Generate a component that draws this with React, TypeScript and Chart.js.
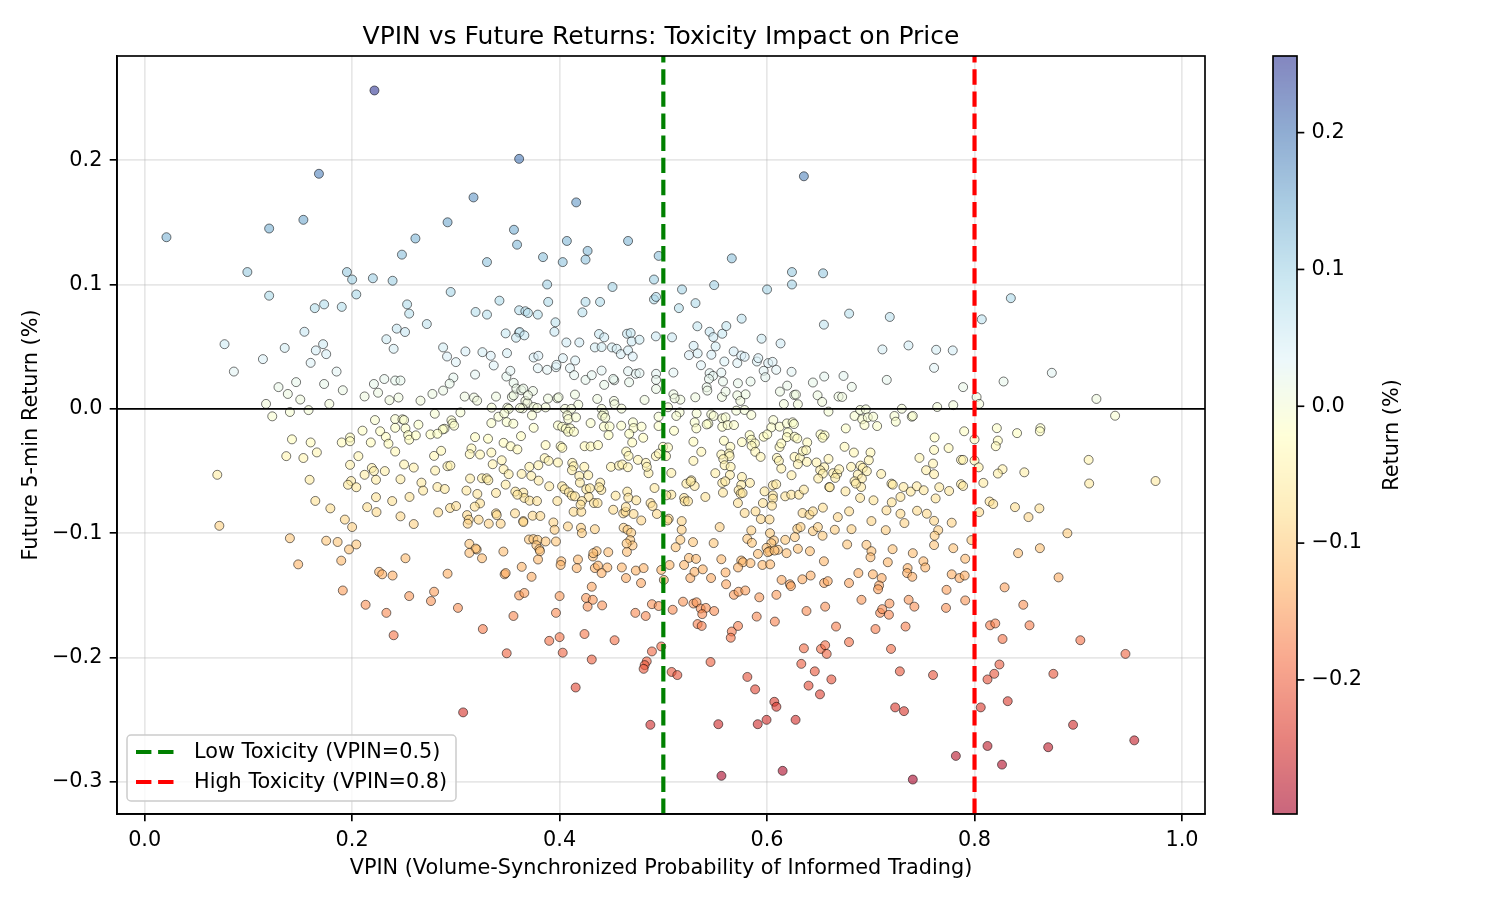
import { useEffect, useRef } from "react";
import { Chart, registerables } from "chart.js";

Chart.register(...registerables);

// VPIN reading vs. the following 5-minute return (%), grouped by VPIN band.
const vpinLow: [number, number][] = [
  [0.2215, 0.256], [0.168, 0.189], [0.153, 0.152], [0.120, 0.145], [0.021, 0.138], [0.099, 0.110],
  [0.195, 0.110], [0.200, 0.104], [0.220, 0.105], [0.120, 0.091], [0.204, 0.092], [0.173, 0.084],
  [0.190, 0.082], [0.164, 0.081],
  [0.154, 0.062], [0.077, 0.052], [0.135, 0.049], [0.172, 0.052], [0.165, 0.047], [0.175, 0.044],
  [0.114, 0.040], [0.160, 0.037], [0.086, 0.030], [0.185, 0.030], [0.233, 0.056], [0.231, 0.024],
  [0.221, 0.020], [0.225, 0.013], [0.212, 0.010], [0.236, 0.007], [0.146, 0.0215], [0.129, 0.0175],
  [0.138, 0.012], [0.173, 0.020], [0.191, 0.015], [0.150, 0.0075], [0.117, 0.004], [0.178, 0.004],
  [0.158, -0.001], [0.140, -0.0025], [0.123, -0.006], [0.222, -0.009], [0.210, -0.0175], [0.227, -0.018],
  [0.2325, -0.0225], [0.235, -0.028], [0.142, -0.0245], [0.160, -0.027], [0.166, -0.035], [0.1365, -0.038],
  [0.153, -0.0395], [0.190, -0.027], [0.198, -0.023], [0.198, -0.026], [0.218, -0.027], [0.206, -0.038],
  [0.198, -0.045], [0.219, -0.0475], [0.221, -0.050], [0.212, -0.053], [0.2315, -0.050], [0.223, -0.057],
  [0.070, -0.053], [0.159, -0.057], [0.199, -0.058], [0.196, -0.061], [0.204, -0.063], [0.1645, -0.074],
  [0.179, -0.080], [0.223, -0.071], [0.2145, -0.079], [0.2235, -0.083], [0.193, -0.089], [0.200, -0.095],
  [0.072, -0.094], [0.140, -0.104], [0.175, -0.106], [0.186, -0.107], [0.197, -0.113], [0.204, -0.109],
  [0.148, -0.125], [0.1895, -0.122],
  [0.226, -0.131], [0.229, -0.133], [0.191, -0.146], [0.213, -0.1575], [0.233, -0.164],
];

const vpinMidLow: [number, number][] = [
  [0.361, 0.201], [0.317, 0.170], [0.416, 0.166], [0.292, 0.150], [0.356, 0.144], [0.261, 0.137],
  [0.359, 0.132], [0.407, 0.135], [0.466, 0.135], [0.427, 0.127], [0.425, 0.120], [0.248, 0.124],
  [0.330, 0.118], [0.384, 0.122], [0.403, 0.118], [0.4955, 0.123], [0.239, 0.103], [0.388, 0.100],
  [0.451, 0.098], [0.491, 0.104], [0.295, 0.094], [0.342, 0.087], [0.389, 0.086], [0.425, 0.086],
  [0.439, 0.086], [0.491, 0.088], [0.493, 0.090], [0.253, 0.084],
  [0.255, 0.0766], [0.319, 0.0779], [0.330, 0.0758], [0.361, 0.0793], [0.367, 0.0785], [0.3695, 0.0771],
  [0.379, 0.0758], [0.422, 0.0776], [0.243, 0.0645], [0.251, 0.0618], [0.272, 0.0682], [0.396, 0.0696],
  [0.395, 0.0620], [0.348, 0.0607], [0.361, 0.0612], [0.3615, 0.0618], [0.358, 0.0572], [0.366, 0.0591],
  [0.240, 0.0483], [0.2877, 0.0494], [0.2915, 0.0421], [0.300, 0.0376], [0.3092, 0.0462], [0.3256, 0.0456],
  [0.3336, 0.0427], [0.3365, 0.0349], [0.3493, 0.0448], [0.375, 0.0413], [0.3795, 0.0427], [0.379, 0.0327],
  [0.388, 0.0314], [0.3965, 0.0335], [0.397, 0.0354], [0.4032, 0.0408], [0.415, 0.0389], [0.4065, 0.0534],
  [0.419, 0.0534], [0.410, 0.0327], [0.414, 0.0271], [0.425, 0.0233], [0.431, 0.0271], [0.4405, 0.0308],
  [0.443, 0.0193], [0.434, 0.0494], [0.4405, 0.0497], [0.438, 0.0602], [0.443, 0.0575], [0.4505, 0.0494],
  [0.455, 0.0483], [0.459, 0.0440], [0.466, 0.0470], [0.4705, 0.0421], [0.465, 0.0604], [0.4685, 0.0610],
  [0.4695, 0.0542], [0.477, 0.0556], [0.4928, 0.0583], [0.4527, 0.0230], [0.4517, 0.0241], [0.466, 0.0303],
  [0.4735, 0.0282], [0.477, 0.0287], [0.467, 0.0214], [0.493, 0.0282], [0.493, 0.0233], [0.493, 0.016],
  [0.2415, 0.0228], [0.2466, 0.0228], [0.3185, 0.0276], [0.3487, 0.0260], [0.3525, 0.0306], [0.3557, 0.0209],
  [0.2976, 0.0252], [0.294, 0.0203], [0.2877, 0.0147], [0.2774, 0.0120], [0.2659, 0.0066], [0.2447, 0.0091],
  [0.3085, 0.0099], [0.3175, 0.0091], [0.3205, 0.0066], [0.3387, 0.0099], [0.354, 0.0096], [0.3557, 0.0109],
  [0.3583, 0.0163], [0.3631, 0.0150], [0.365, 0.0163], [0.3743, 0.0144], [0.367, 0.0064], [0.369, 0.0048],
  [0.3644, 0.0004], [0.375, 0.0015], [0.3695, 0.0109], [0.3888, 0.0083], [0.3978, 0.0085], [0.399, 0.0093],
  [0.4148, 0.0115], [0.418, 0.0034], [0.4363, 0.0080], [0.4524, 0.0064], [0.453, 0.0037], [0.4597, 0.0002],
  [0.4819, 0.0072], [0.3345, 0.0010], [0.3496, 0.0010], [0.351, 0.0], [0.3618, 0.0007], [0.3865, 0.0012],
  [0.3785, 0.0007], [0.4052, 0.0], [0.4113, 0.0], [0.4405, 0.0], [0.4427, -0.0036],
  [0.2415, -0.0082], [0.2485, -0.0084], [0.2501, -0.0090], [0.2797, -0.0039], [0.3044, -0.0028],
  [0.2957, -0.0092], [0.2967, -0.0117], [0.2983, -0.0135], [0.289, -0.0160], [0.2874, -0.0165],
  [0.2639, -0.0127], [0.2415, -0.0152], [0.2514, -0.0157], [0.2755, -0.0205], [0.2822, -0.0200],
  [0.254, -0.0211], [0.255, -0.0248], [0.2614, -0.0213], [0.2415, -0.0343], [0.3342, -0.0114],
  [0.341, -0.0063], [0.3467, -0.0036], [0.349, -0.0106], [0.3554, -0.0119], [0.3734, -0.0052],
  [0.375, -0.0152], [0.3185, -0.0227], [0.331, -0.0240], [0.3628, -0.0219], [0.346, -0.0273],
  [0.3528, -0.0300], [0.3593, -0.0326], [0.315, -0.0318], [0.3134, -0.0364], [0.3233, -0.0367],
  [0.3342, -0.0351], [0.3865, -0.0291], [0.401, -0.0300], [0.4026, -0.0313], [0.3984, -0.0133],
  [0.4025, -0.0144], [0.406, -0.0160], [0.4102, -0.0157], [0.4083, -0.0184], [0.4138, -0.0184],
  [0.4074, -0.0052], [0.4084, -0.0082], [0.4158, -0.0068], [0.4299, -0.0114], [0.4411, -0.0055],
  [0.444, -0.0071], [0.4427, -0.0143], [0.4482, -0.0141], [0.4472, -0.0211], [0.4594, -0.0135],
  [0.4707, -0.0108], [0.4713, -0.0154], [0.479, -0.0143], [0.4671, -0.0200], [0.4806, -0.0232],
  [0.4954, -0.0138], [0.4954, -0.0063], [0.4241, -0.0300], [0.4299, -0.0302], [0.437, -0.0291],
  [0.47, -0.0270], [0.4642, -0.0343], [0.4665, -0.0378], [0.4755, -0.0410], [0.4832, -0.0434],
  [0.4857, -0.0517], [0.4841, -0.0466], [0.4928, -0.0380], [0.4957, -0.0359], [0.279, -0.0378],
  [0.2858, -0.0337], [0.2501, -0.0447], [0.2594, -0.0472], [0.28, -0.0496], [0.2919, -0.0461],
  [0.2947, -0.0456], [0.3355, -0.0445], [0.3442, -0.0413], [0.346, -0.0485], [0.3509, -0.0525],
  [0.3634, -0.0523], [0.3708, -0.0466], [0.3727, -0.0539], [0.3795, -0.0453], [0.3798, -0.0577],
  [0.3856, -0.0396], [0.3894, -0.0418], [0.3984, -0.0431], [0.4122, -0.0434], [0.4135, -0.0461],
  [0.4119, -0.0493], [0.4238, -0.0466], [0.419, -0.0539], [0.4196, -0.0593], [0.4276, -0.0533],
  [0.4495, -0.0466], [0.4572, -0.0456], [0.4604, -0.0447], [0.4658, -0.0469], [0.2466, -0.0566],
  [0.2668, -0.0593], [0.2684, -0.0657], [0.2822, -0.0628], [0.2893, -0.0644], [0.3137, -0.0560],
  [0.3252, -0.0558], [0.3297, -0.0558], [0.3313, -0.0574], [0.348, -0.0609], [0.3387, -0.0676],
  [0.3102, -0.0657], [0.3207, -0.0684], [0.3573, -0.0665], [0.365, -0.0673], [0.366, -0.0716],
  [0.3711, -0.0738], [0.3782, -0.0741], [0.3593, -0.0690], [0.39, -0.0622], [0.4024, -0.0622],
  [0.4049, -0.0646], [0.409, -0.0671], [0.4119, -0.0698], [0.4148, -0.0703], [0.4257, -0.0646],
  [0.4292, -0.0638], [0.428, -0.0708], [0.4392, -0.0593], [0.4402, -0.0652], [0.4382, -0.0630],
  [0.454, -0.0698], [0.4652, -0.0665], [0.4662, -0.0714], [0.4739, -0.0735], [0.4915, -0.0636],
  [0.2386, -0.0741], [0.2553, -0.0708], [0.2829, -0.0832], [0.2944, -0.0797], [0.3002, -0.0781],
  [0.3233, -0.0760], [0.3182, -0.0786], [0.3108, -0.0854], [0.3387, -0.0840], [0.3394, -0.0854],
  [0.357, -0.0840], [0.365, -0.0902], [0.374, -0.0859], [0.3814, -0.0861], [0.3978, -0.0741],
  [0.4215, -0.0741], [0.4135, -0.0827], [0.4209, -0.0827], [0.4331, -0.0757], [0.4202, -0.0770],
  [0.4366, -0.0757], [0.4517, -0.0811], [0.4613, -0.0840], [0.4636, -0.0827], [0.4639, -0.0789],
  [0.4713, -0.0845], [0.4787, -0.0897], [0.4877, -0.0757], [0.4896, -0.0781], [0.4938, -0.0845],
  [0.2466, -0.0864], [0.2594, -0.0926], [0.3124, -0.0891], [0.3114, -0.0923], [0.322, -0.0891],
  [0.3317, -0.0923], [0.3432, -0.0923], [0.365, -0.0910], [0.394, -0.0913], [0.3952, -0.0972],
  [0.408, -0.0945], [0.4206, -0.0956], [0.4215, -0.0999], [0.434, -0.0967], [0.4617, -0.0956],
  [0.4655, -0.0972], [0.469, -0.0996], [0.4681, -0.1055], [0.4703, -0.1098], [0.4649, -0.1150],
  [0.4646, -0.1082], [0.3705, -0.1050], [0.3747, -0.1047], [0.3788, -0.1053], [0.3865, -0.1066],
  [0.3965, -0.1066], [0.3776, -0.1096], [0.3805, -0.1128], [0.3811, -0.1144], [0.313, -0.1085],
  [0.3201, -0.1131], [0.3191, -0.1123], [0.3252, -0.1201], [0.313, -0.1158], [0.3458, -0.1147],
  [0.2514, -0.1201], [0.3792, -0.1211], [0.4016, -0.1225], [0.4177, -0.1211], [0.4321, -0.1187],
  [0.4469, -0.1152], [0.4357, -0.1144], [0.4325, -0.1160],
  [0.239, -0.134], [0.292, -0.1325], [0.255, -0.1505], [0.279, -0.147], [0.276, -0.1545], [0.302, -0.160],
  [0.240, -0.182], [0.326, -0.177], [0.347, -0.133], [0.348, -0.132], [0.3635, -0.127], [0.373, -0.135],
  [0.361, -0.150], [0.366, -0.148], [0.3555, -0.1665], [0.349, -0.1965], [0.307, -0.244], [0.401, -0.1255],
  [0.4165, -0.128], [0.400, -0.1505], [0.3965, -0.164], [0.390, -0.1865], [0.400, -0.1835], [0.403, -0.196],
  [0.4155, -0.224], [0.424, -0.181], [0.431, -0.2015], [0.431, -0.143], [0.4255, -0.152], [0.432, -0.1535],
  [0.427, -0.159], [0.441, -0.158], [0.434, -0.128], [0.437, -0.126], [0.446, -0.1275], [0.4405, -0.132],
  [0.460, -0.1275], [0.464, -0.136], [0.4735, -0.130], [0.481, -0.128], [0.4785, -0.140], [0.453, -0.186],
  [0.473, -0.164], [0.483, -0.1665], [0.489, -0.157], [0.4955, -0.1585], [0.489, -0.195], [0.498, -0.191],
  [0.484, -0.203], [0.482, -0.206], [0.481, -0.209], [0.4875, -0.254], [0.498, -0.1295],
];

const vpinMidHigh: [number, number][] = [
  [0.6355, 0.187], [0.566, 0.121], [0.624, 0.110], [0.654, 0.109], [0.518, 0.096], [0.549, 0.0995],
  [0.600, 0.096], [0.624, 0.100], [0.531, 0.085], [0.515, 0.081],
  [0.5755, 0.0725], [0.6791, 0.0766], [0.7183, 0.0739], [0.6548, 0.0677], [0.5328, 0.0664], [0.5446, 0.0620],
  [0.5482, 0.0577], [0.5568, 0.0604], [0.5607, 0.0666], [0.5084, 0.0575], [0.5947, 0.0564], [0.613, 0.0526],
  [0.5292, 0.0507], [0.5247, 0.0432], [0.5331, 0.0446], [0.5463, 0.0435], [0.5504, 0.0502], [0.5678, 0.0462],
  [0.5713, 0.0368], [0.5751, 0.0429], [0.5784, 0.0419], [0.5363, 0.0351], [0.5588, 0.0381], [0.5902, 0.0381],
  [0.5915, 0.0408], [0.6011, 0.0368], [0.6053, 0.0378], [0.6088, 0.0314], [0.5967, 0.0306], [0.5983, 0.0255],
  [0.6236, 0.0298], [0.7112, 0.0478], [0.7363, 0.0510], [0.5097, 0.0292], [0.5446, 0.0287], [0.5479, 0.0265],
  [0.544, 0.0241], [0.5559, 0.0292], [0.5575, 0.0220], [0.5719, 0.0206], [0.5841, 0.0220], [0.5418, 0.0174],
  [0.5424, 0.0147], [0.5097, 0.0117], [0.5164, 0.0074], [0.5109, 0.0085], [0.5308, 0.0093], [0.5565, 0.0096],
  [0.56, 0.0139], [0.5713, 0.0109], [0.5742, 0.0064], [0.5793, 0.0117], [0.6124, 0.0139], [0.6194, 0.0187],
  [0.6262, 0.0112], [0.6278, 0.0115], [0.6162, 0.0039], [0.6297, 0.0037], [0.6442, 0.0212], [0.6551, 0.0260],
  [0.6737, 0.0265], [0.6817, 0.0177], [0.6487, 0.0109], [0.6531, 0.0056], [0.6689, 0.0099], [0.6724, 0.0096],
  [0.7154, 0.0233], [0.6592, -0.0022], [0.5045, 0.0013], [0.5157, -0.0028], [0.5125, -0.0057],
  [0.5321, -0.0036], [0.5302, -0.0108], [0.5318, -0.0157], [0.5703, -0.0014], [0.5783, -0.0009],
  [0.5848, -0.0049], [0.5462, -0.0044], [0.5485, -0.0057], [0.5568, -0.0076], [0.56, -0.0068],
  [0.5434, -0.0119], [0.5418, -0.0125], [0.5568, -0.0144], [0.5620, -0.0130], [0.5681, -0.0130],
  [0.606, -0.0090], [0.6041, -0.0149], [0.6121, -0.0143], [0.6191, -0.0117], [0.6246, -0.0108],
  [0.6259, -0.0122], [0.5967, -0.0224], [0.6002, -0.0205], [0.6201, -0.0189], [0.6191, -0.0227],
  [0.5832, -0.0211], [0.5848, -0.0248], [0.5758, -0.0267], [0.5883, -0.0278], [0.6843, -0.0057],
  [0.6897, -0.0009], [0.6952, -0.0004], [0.6917, -0.0084], [0.6939, -0.0130], [0.6971, -0.0068],
  [0.7023, -0.0063], [0.7061, -0.0138], [0.7228, -0.0057], [0.7241, -0.0103], [0.7299, 0.0001],
  [0.7395, -0.0063], [0.7405, -0.0057], [0.6759, -0.0157], [0.6515, -0.0205], [0.6554, -0.0213],
  [0.6535, -0.0232], [0.5103, -0.0176], [0.529, -0.0264], [0.4997, -0.0305], [0.5045, -0.0310],
  [0.5026, -0.0380], [0.5366, -0.0345], [0.529, -0.0418], [0.5584, -0.0256], [0.5646, -0.0305],
  [0.5559, -0.0367], [0.5633, -0.0359], [0.5639, -0.0380], [0.5578, -0.0404], [0.5591, -0.0453],
  [0.5649, -0.0466], [0.5642, -0.0531], [0.5851, -0.0297], [0.5886, -0.0345], [0.5938, -0.0386],
  [0.612, -0.0307], [0.6137, -0.0278], [0.6095, -0.0394], [0.6114, -0.0418], [0.6137, -0.0480],
  [0.6265, -0.0224], [0.6291, -0.0238], [0.6265, -0.0386], [0.6317, -0.0396], [0.6345, -0.0340],
  [0.6387, -0.0270], [0.6377, -0.0332], [0.6297, -0.0445], [0.6384, -0.0426], [0.6477, -0.0431],
  [0.6592, -0.0402], [0.6747, -0.0305], [0.6837, -0.0351], [0.6997, -0.0351], [0.6981, -0.0413],
  [0.6551, -0.0469], [0.6512, -0.0493], [0.6538, -0.0520], [0.6493, -0.0560], [0.6637, -0.0517],
  [0.6676, -0.0523], [0.6695, -0.0485], [0.6657, -0.0555], [0.6599, -0.0628], [0.681, -0.0466],
  [0.6901, -0.0456], [0.6923, -0.0474], [0.6962, -0.0501], [0.6875, -0.0528], [0.6914, -0.0560],
  [0.71, -0.0523], [0.6843, -0.0582], [0.6907, -0.0628], [0.6856, -0.0601], [0.7199, -0.0601],
  [0.7212, -0.0609], [0.7315, -0.0628], [0.7385, -0.0665], [0.7443, -0.0622], [0.751, -0.0654],
  [0.7469, -0.0394], [0.7533, -0.0493], [0.5077, -0.0515], [0.5501, -0.0517], [0.5568, -0.0595],
  [0.5597, -0.0582], [0.5758, -0.0547], [0.5835, -0.0595], [0.5751, -0.0611], [0.5222, -0.0601],
  [0.527, -0.0574], [0.5302, -0.0620], [0.5263, -0.0584], [0.6236, -0.0533], [0.6056, -0.0614],
  [0.6088, -0.0606], [0.5077, -0.0690], [0.5029, -0.0695], [0.52, -0.0716], [0.5206, -0.0743],
  [0.5238, -0.0743], [0.5405, -0.0708], [0.5575, -0.0673], [0.5726, -0.0654], [0.5745, -0.0681],
  [0.5764, -0.0676], [0.5976, -0.0663], [0.6056, -0.0695], [0.6056, -0.0722], [0.596, -0.0757],
  [0.6047, -0.0778], [0.6175, -0.0703], [0.6233, -0.0690], [0.6307, -0.0690], [0.6355, -0.0649],
  [0.6605, -0.0630], [0.6756, -0.0663], [0.6897, -0.0716], [0.7026, -0.0735], [0.7151, -0.0816],
  [0.7202, -0.0751], [0.7286, -0.0708], [0.5719, -0.0757], [0.5784, -0.0837], [0.5889, -0.0824],
  [0.594, -0.0886], [0.6024, -0.0889], [0.6342, -0.0837], [0.6409, -0.0851], [0.6442, -0.0824],
  [0.6538, -0.0794], [0.6682, -0.0870], [0.6791, -0.0824], [0.7006, -0.0902], [0.7286, -0.0843],
  [0.7324, -0.0918], [0.7446, -0.0819], [0.754, -0.0843], [0.5052, -0.0883], [0.504, -0.0897],
  [0.5177, -0.0902], [0.5177, -0.0972], [0.5164, -0.1053], [0.5119, -0.1112], [0.5543, -0.0950],
  [0.5286, -0.1071], [0.5485, -0.1079], [0.5848, -0.0977], [0.5809, -0.1045], [0.5854, -0.1077],
  [0.6028, -0.0999], [0.6066, -0.1058], [0.6041, -0.1080], [0.5995, -0.1117], [0.6024, -0.1144],
  [0.6105, -0.1133], [0.6188, -0.1160], [0.6175, -0.1053], [0.6291, -0.0964], [0.6323, -0.0950],
  [0.6268, -0.1031], [0.6297, -0.1125], [0.6413, -0.1144], [0.6442, -0.0983], [0.6490, -0.0950],
  [0.6535, -0.1020], [0.6653, -0.0972], [0.6814, -0.0967], [0.6958, -0.1093], [0.7144, -0.0975],
  [0.7006, -0.1144], [0.721, -0.1128], [0.7405, -0.1160], [0.6772, -0.1090], [0.5247, -0.1198],
  [0.5315, -0.1206], [0.5559, -0.1209], [0.5751, -0.1219], [0.5768, -0.1233], [0.5912, -0.1166],
  [0.6008, -0.1152], [0.6072, -0.1139], [0.6548, -0.1225], [0.6997, -0.1193], [0.7164, -0.1233],
  [0.7507, -0.1225],
  [0.506, -0.1255], [0.520, -0.1255], [0.584, -0.124], [0.5005, -0.1375], [0.508, -0.2115], [0.5135, -0.214],
  [0.509, -0.1615], [0.519, -0.155], [0.529, -0.1565], [0.532, -0.1555], [0.536, -0.1605], [0.541, -0.160],
  [0.5375, -0.165], [0.549, -0.1625], [0.533, -0.173], [0.537, -0.1745], [0.5455, -0.2035], [0.553, -0.2535],
  [0.556, -0.295], [0.526, -0.136], [0.530, -0.131], [0.538, -0.129], [0.546, -0.136], [0.560, -0.1315],
  [0.5605, -0.141], [0.572, -0.1275], [0.568, -0.1495], [0.5725, -0.147], [0.579, -0.146], [0.566, -0.179],
  [0.572, -0.1745], [0.565, -0.184], [0.590, -0.167], [0.5925, -0.1515], [0.581, -0.2155], [0.5885, -0.2255],
  [0.591, -0.2535], [0.5995, -0.250], [0.5955, -0.1255], [0.603, -0.125], [0.609, -0.1495], [0.6075, -0.171],
  [0.607, -0.2355], [0.609, -0.2395], [0.615, -0.291], [0.6275, -0.250], [0.614, -0.1375], [0.622, -0.141],
  [0.623, -0.1425], [0.634, -0.137], [0.642, -0.134], [0.638, -0.1625], [0.656, -0.159], [0.655, -0.140],
  [0.6585, -0.1385], [0.6665, -0.175], [0.6355, -0.1925], [0.633, -0.205], [0.646, -0.211], [0.640, -0.2225],
  [0.651, -0.2295], [0.662, -0.2175], [0.652, -0.193], [0.656, -0.190], [0.6575, -0.197], [0.679, -0.1875],
  [0.679, -0.140], [0.688, -0.132], [0.691, -0.1535], [0.702, -0.133], [0.7105, -0.136], [0.708, -0.142],
  [0.707, -0.145], [0.7045, -0.177], [0.709, -0.164], [0.711, -0.161], [0.718, -0.1565], [0.7175, -0.1655],
  [0.7195, -0.193], [0.728, -0.211], [0.7235, -0.240], [0.732, -0.243], [0.7405, -0.298], [0.7335, -0.175],
  [0.7365, -0.1535], [0.742, -0.159], [0.7355, -0.128], [0.735, -0.132], [0.740, -0.135], [0.7525, -0.1275],
  [0.760, -0.214],
];

const vpinHigh: [number, number][] = [
  [0.835, 0.089],
  [0.807, 0.072], [0.763, 0.0475], [0.779, 0.047], [0.761, 0.033], [0.8745, 0.029], [0.828, 0.022],
  [0.789, 0.0175], [0.802, 0.0095], [0.8045, 0.004], [0.7795, 0.003], [0.764, 0.0015], [0.9175, 0.008],
  [0.9355, -0.0055], [0.8215, -0.0155], [0.841, -0.0195], [0.8635, -0.0155], [0.863, -0.018], [0.790, -0.018],
  [0.7615, -0.023], [0.800, -0.0245], [0.8225, -0.0255], [0.8205, -0.030], [0.761, -0.033], [0.775, -0.0315],
  [0.787, -0.041], [0.789, -0.041], [0.800, -0.0415], [0.804, -0.047], [0.760, -0.044], [0.910, -0.041],
  [0.827, -0.0485], [0.8225, -0.052], [0.848, -0.051], [0.761, -0.0525], [0.9745, -0.058], [0.9105, -0.060],
  [0.8085, -0.0595], [0.787, -0.0605], [0.789, -0.062], [0.766, -0.063], [0.7755, -0.066], [0.7625, -0.072],
  [0.8145, -0.0745], [0.818, -0.0765], [0.839, -0.079], [0.8625, -0.080], [0.8045, -0.083], [0.852, -0.087],
  [0.761, -0.090], [0.778, -0.0915], [0.765, -0.0975], [0.7615, -0.102], [0.8895, -0.100], [0.797, -0.1055],
  [0.761, -0.1095], [0.7795, -0.112], [0.863, -0.112], [0.842, -0.116], [0.791, -0.1205],
  [0.778, -0.133], [0.7855, -0.136], [0.7905, -0.134], [0.773, -0.1455], [0.791, -0.154], [0.7725, -0.160],
  [0.829, -0.1435], [0.881, -0.1355], [0.847, -0.1575], [0.815, -0.174], [0.820, -0.1725], [0.853, -0.174],
  [0.827, -0.185], [0.902, -0.186], [0.9455, -0.197], [0.824, -0.2055], [0.819, -0.213], [0.8125, -0.2175],
  [0.876, -0.213], [0.832, -0.235], [0.806, -0.240], [0.895, -0.254], [0.954, -0.2665], [0.8125, -0.271],
  [0.871, -0.272], [0.782, -0.279], [0.8265, -0.286],
];

const xTicks = [0, 0.2, 0.4, 0.6, 0.8, 1.0];
const yTicks = [-0.3, -0.2, -0.1, 0, 0.1, 0.2];
const colorbarTicks = [-0.2, -0.1, 0, 0.1, 0.2];
const lowToxicityVpin = 0.5;
const highToxicityVpin = 0.8;

// RdYlBu colormap anchors
const RDYLBU: number[][] = [
  [165, 0, 38], [215, 48, 39], [244, 109, 67], [253, 174, 97], [254, 224, 144], [255, 255, 191],
  [224, 243, 248], [171, 217, 233], [116, 173, 209], [69, 117, 180], [49, 54, 149],
];

const FONT = "'DejaVu Sans', 'Liberation Sans', sans-serif";
const POINT_ALPHA = 0.6;
const TEXT_PX = 20.8;
const TITLE_PX = 25;
const LINE_PX = 1.67;
const TICK_LEN = 7.3;
const TICK_PAD = 7.3;

const samples = [...vpinLow, ...vpinMidLow, ...vpinMidHigh, ...vpinHigh];
const xsAll = samples.map((p) => p[0]);
const ysAll = samples.map((p) => p[1]);
const retMin = Math.min(...ysAll);
const retMax = Math.max(...ysAll);
const xLo = Math.min(...xsAll);
const xHi = Math.max(...xsAll);
const xMin = xLo - 0.05 * (xHi - xLo);
const xMax = xHi + 0.05 * (xHi - xLo);
const yMin = retMin - 0.05 * (retMax - retMin);
const yMax = retMax + 0.05 * (retMax - retMin);

function rdylbu(t: number): number[] {
  const c = Math.max(0, Math.min(1, t)) * 10;
  const i = Math.min(9, Math.floor(c));
  const u = c - i;
  const a = RDYLBU[i];
  const b = RDYLBU[i + 1];
  return [0, 1, 2].map((k) => Math.round(a[k] + (b[k] - a[k]) * u));
}

function returnColor(v: number, alpha: number): string {
  const [r, g, b] = rdylbu((v - retMin) / (retMax - retMin));
  return `rgba(${r},${g},${b},${alpha})`;
}

const fmt = (v: number) => Number(v).toFixed(1).replace("-", "\u2212");

const figurePlugin = {
  id: "figureDecor",
  beforeDraw(chart: any) {
    const ctx = chart.ctx;
    ctx.save();
    ctx.fillStyle = "#ffffff";
    ctx.fillRect(0, 0, chart.width, chart.height);
    ctx.restore();
  },
  afterDatasetsDraw(chart: any) {
    const ctx = chart.ctx as CanvasRenderingContext2D;
    const area = chart.chartArea;
    ctx.save();

    // axes frame
    ctx.strokeStyle = "#000";
    ctx.lineWidth = LINE_PX;
    ctx.strokeRect(area.left, area.top, area.right - area.left, area.bottom - area.top);

    // title
    ctx.fillStyle = "#000";
    ctx.font = `${TITLE_PX}px ${FONT}`;
    ctx.textAlign = "center";
    ctx.textBaseline = "alphabetic";
    ctx.fillText("VPIN vs Future Returns: Toxicity Impact on Price", (area.left + area.right) / 2, area.top - 12.5);

    // legend
    const lx = area.left + 10;
    const ly = area.bottom - 79;
    const lw = 329;
    const lh = 66;
    ctx.beginPath();
    ctx.roundRect(lx, ly, lw, lh, 4);
    ctx.fillStyle = "rgba(255,255,255,0.8)";
    ctx.fill();
    ctx.strokeStyle = "#cccccc";
    ctx.lineWidth = 1.5;
    ctx.stroke();
    const entries = chart.data.datasets.filter((d: any) => d.inLegend);
    entries.forEach((d: any, i: number) => {
      const y = ly + 17 + i * 30;
      ctx.beginPath();
      ctx.setLineDash(d.borderDash);
      ctx.lineDashOffset = 0;
      ctx.strokeStyle = d.borderColor;
      ctx.lineWidth = d.borderWidth;
      ctx.moveTo(lx + 9, y);
      ctx.lineTo(lx + 50.6, y);
      ctx.stroke();
      ctx.setLineDash([]);
      ctx.fillStyle = "#000";
      ctx.font = `${TEXT_PX}px ${FONT}`;
      ctx.textAlign = "left";
      ctx.textBaseline = "middle";
      ctx.fillText(d.label, lx + 67, y + 1);
    });

    // colorbar
    const cb = chart.scales.cbar;
    const cx = area.right + 68;
    const cw = 24;
    for (let py = Math.floor(cb.top); py < Math.ceil(cb.bottom); py++) {
      const v = cb.getValueForPixel(py + 0.5);
      ctx.fillStyle = returnColor(v, POINT_ALPHA);
      ctx.fillRect(cx, py, cw, 1);
    }
    ctx.strokeStyle = "#000";
    ctx.lineWidth = LINE_PX;
    ctx.strokeRect(cx, cb.top, cw, cb.bottom - cb.top);
    cb.ticks.forEach((t: any) => {
      const py = cb.getPixelForValue(t.value);
      ctx.beginPath();
      ctx.moveTo(cx + cw, py);
      ctx.lineTo(cx + cw + TICK_LEN, py);
      ctx.stroke();
    });
    ctx.translate(area.right + 188, (cb.top + cb.bottom) / 2);
    ctx.rotate(-Math.PI / 2);
    ctx.fillStyle = "#000";
    ctx.font = `${TEXT_PX}px ${FONT}`;
    ctx.textAlign = "center";
    ctx.textBaseline = "middle";
    ctx.fillText("Return (%)", 0, 0);

    ctx.restore();
  },
};

export default function App() {
  const canvasRef = useRef<HTMLCanvasElement>(null);

  useEffect(() => {
    const canvas = canvasRef.current;
    if (!canvas) return;

    const textFont = { family: FONT, size: TEXT_PX };
    const gridOpts = {
      color: "rgba(176,176,176,0.3)",
      lineWidth: LINE_PX,
      tickColor: "#000",
      tickLength: TICK_LEN,
      tickWidth: LINE_PX,
    };
    const toxicityLine = (vpin: number, color: string, label: string) => ({
      type: "line" as const,
      label,
      inLegend: true,
      data: [{ x: vpin, y: yMin }, { x: vpin, y: yMax }],
      borderColor: color,
      borderWidth: 4.17,
      borderDash: [15.4, 6.7],
      borderCapStyle: "butt",
      pointRadius: 0,
      showLine: true,
      fill: false,
      order: 1,
      xAxisID: "x",
      yAxisID: "y",
    });

    const chart = new Chart(canvas, {
      type: "scatter",
      data: {
        datasets: [
          {
            label: "Future 5-min Return",
            data: samples.map(([x, y]) => ({ x, y })),
            pointRadius: 4.5,
            pointBackgroundColor: samples.map(([, y]) => returnColor(y, POINT_ALPHA)),
            pointBorderColor: "rgba(0,0,0,0.6)",
            pointBorderWidth: 0.9,
            order: 3,
            xAxisID: "x",
            yAxisID: "y",
          } as any,
          {
            type: "line",
            label: "zero",
            data: [{ x: xMin, y: 0 }, { x: xMax, y: 0 }],
            borderColor: "#000",
            borderWidth: 1.6,
            pointRadius: 0,
            showLine: true,
            order: 2,
            xAxisID: "x",
            yAxisID: "y",
          } as any,
          toxicityLine(lowToxicityVpin, "#008000", "Low Toxicity (VPIN=0.5)") as any,
          toxicityLine(highToxicityVpin, "#ff0000", "High Toxicity (VPIN=0.8)") as any,
        ],
      },
      options: {
        animation: false,
        responsive: false,
        devicePixelRatio: 1,
        events: [],
        layout: { padding: { top: 56, left: 0, right: 0, bottom: 0 } },
        plugins: {
          legend: { display: false },
          tooltip: { enabled: false },
          title: { display: false },
        },
        scales: {
          x: {
            type: "linear",
            position: "bottom",
            min: xMin,
            max: xMax,
            afterBuildTicks: (s: any) => {
              s.ticks = xTicks.map((value) => ({ value }));
            },
            afterFit: (s: any) => {
              s.height = 86;
              s.paddingLeft = 0;
              s.paddingRight = 0;
            },
            ticks: {
              callback: (v: any) => fmt(v),
              font: textFont,
              color: "#000",
              padding: TICK_PAD,
              maxRotation: 0,
              autoSkip: false,
            },
            grid: gridOpts,
            border: { color: "#000", width: LINE_PX },
            title: {
              display: true,
              text: "VPIN (Volume-Synchronized Probability of Informed Trading)",
              font: textFont,
              color: "#000",
              padding: { top: 0, bottom: 19 },
            },
          },
          y: {
            type: "linear",
            position: "left",
            min: yMin,
            max: yMax,
            afterBuildTicks: (s: any) => {
              s.ticks = yTicks.map((value) => ({ value }));
            },
            afterFit: (s: any) => {
              s.width = 117;
              s.paddingTop = 0;
              s.paddingBottom = 0;
            },
            ticks: {
              callback: (v: any) => fmt(v),
              font: textFont,
              color: "#000",
              padding: TICK_PAD,
              autoSkip: false,
            },
            grid: gridOpts,
            border: { color: "#000", width: LINE_PX },
            title: {
              display: true,
              text: "Future 5-min Return (%)",
              font: textFont,
              color: "#000",
              padding: { top: 19, bottom: 0 },
            },
          },
          cbar: {
            type: "linear",
            position: "right",
            min: retMin,
            max: retMax,
            afterBuildTicks: (s: any) => {
              s.ticks = colorbarTicks.map((value) => ({ value }));
            },
            afterFit: (s: any) => {
              s.width = 295;
              s.paddingTop = 0;
              s.paddingBottom = 0;
            },
            ticks: {
              callback: (v: any) => fmt(v),
              font: textFont,
              color: "#000",
              padding: 106.6,
              autoSkip: false,
            },
            grid: { display: false, drawTicks: false },
            border: { display: false },
          },
        },
      } as any,
      plugins: [figurePlugin],
    });

    return () => chart.destroy();
  }, []);

  return (
    <div style={{ position: "fixed", left: 0, top: 0, width: 1500, height: 900, background: "#fff" }}>
      <canvas ref={canvasRef} width={1500} height={900} style={{ display: "block", width: 1500, height: 900 }} />
    </div>
  );
}
